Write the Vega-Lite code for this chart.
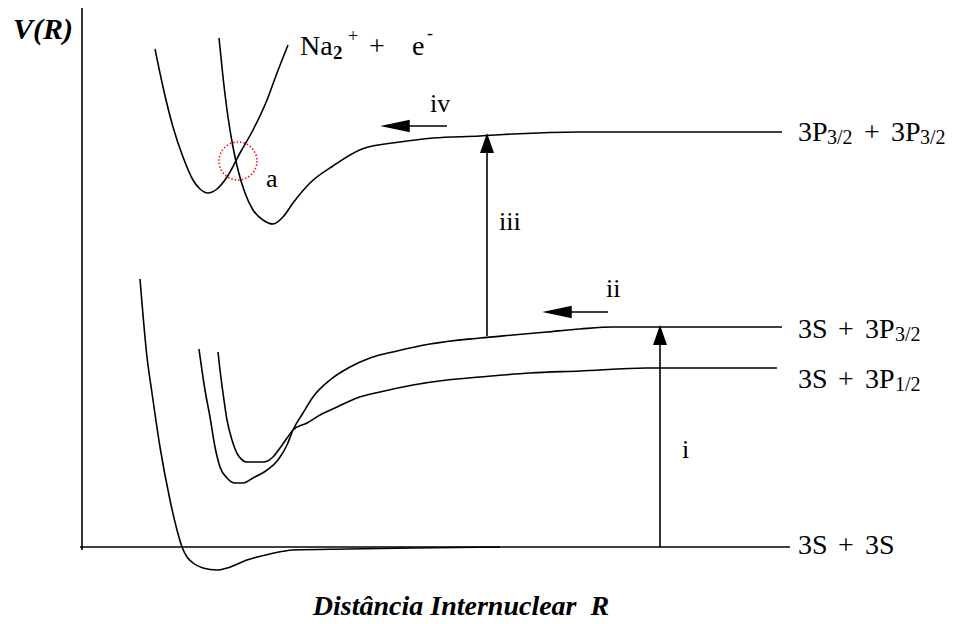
{
  "$schema": "https://vega.github.io/schema/vega-lite/v6.json",
  "width": 960,
  "height": 624,
  "autosize": {"type": "fit", "contains": "padding"},
  "padding": 0,
  "background": "white",
  "config": {"view": {"stroke": null}},
  "datasets": {
    "curves": [
      {"curve": "3S+3S", "R": 5.8, "V": 26.8}, {"curve": "3S+3S", "R": 6.5, "V": 19.0}, {"curve": "3S+3S", "R": 7.0, "V": 15.4}, {"curve": "3S+3S", "R": 7.8, "V": 10.0}, {"curve": "3S+3S", "R": 8.8, "V": 4.7}, {"curve": "3S+3S", "R": 9.5, "V": 1.7}, {"curve": "3S+3S", "R": 10.0, "V": 0.0}, {"curve": "3S+3S", "R": 10.5, "V": -1.0}, {"curve": "3S+3S", "R": 11.1, "V": -1.6}, {"curve": "3S+3S", "R": 12.1, "V": -2.1}, {"curve": "3S+3S", "R": 13.5, "V": -2.3}, {"curve": "3S+3S", "R": 14.5, "V": -2.1}, {"curve": "3S+3S", "R": 16.5, "V": -1.3}, {"curve": "3S+3S", "R": 18.8, "V": -0.7}, {"curve": "3S+3S", "R": 21.1, "V": -0.3}, {"curve": "3S+3S", "R": 26.5, "V": -0.2}, {"curve": "3S+3S", "R": 33.1, "V": -0.1}, {"curve": "3S+3S", "R": 41.8, "V": 0.0},
      {"curve": "3S+3P3/2", "R": 11.7, "V": 19.8}, {"curve": "3S+3P3/2", "R": 12.3, "V": 15.7}, {"curve": "3S+3P3/2", "R": 12.8, "V": 13.0}, {"curve": "3S+3P3/2", "R": 13.3, "V": 10.0}, {"curve": "3S+3P3/2", "R": 13.8, "V": 8.0}, {"curve": "3S+3P3/2", "R": 14.5, "V": 6.9}, {"curve": "3S+3P3/2", "R": 15.3, "V": 6.4}, {"curve": "3S+3P3/2", "R": 16.1, "V": 6.4}, {"curve": "3S+3P3/2", "R": 17.1, "V": 6.9}, {"curve": "3S+3P3/2", "R": 18.5, "V": 7.7}, {"curve": "3S+3P3/2", "R": 19.6, "V": 8.7}, {"curve": "3S+3P3/2", "R": 20.5, "V": 10.2}, {"curve": "3S+3P3/2", "R": 21.1, "V": 11.7}, {"curve": "3S+3P3/2", "R": 22.1, "V": 13.4}, {"curve": "3S+3P3/2", "R": 23.1, "V": 15.0}, {"curve": "3S+3P3/2", "R": 24.8, "V": 16.7}, {"curve": "3S+3P3/2", "R": 26.8, "V": 18.0}, {"curve": "3S+3P3/2", "R": 28.8, "V": 18.9}, {"curve": "3S+3P3/2", "R": 31.5, "V": 19.6}, {"curve": "3S+3P3/2", "R": 34.8, "V": 20.3}, {"curve": "3S+3P3/2", "R": 39.8, "V": 20.9}, {"curve": "3S+3P3/2", "R": 43.1, "V": 21.2}, {"curve": "3S+3P3/2", "R": 46.5, "V": 21.5}, {"curve": "3S+3P3/2", "R": 49.8, "V": 21.8}, {"curve": "3S+3P3/2", "R": 53.1, "V": 22.0}, {"curve": "3S+3P3/2", "R": 56.1, "V": 22.0}, {"curve": "3S+3P3/2", "R": 70.0, "V": 22.0},
      {"curve": "3S+3P1/2", "R": 13.6, "V": 19.5}, {"curve": "3S+3P1/2", "R": 13.8, "V": 17.7}, {"curve": "3S+3P1/2", "R": 14.1, "V": 15.4}, {"curve": "3S+3P1/2", "R": 14.5, "V": 12.7}, {"curve": "3S+3P1/2", "R": 15.0, "V": 10.7}, {"curve": "3S+3P1/2", "R": 15.6, "V": 9.2}, {"curve": "3S+3P1/2", "R": 16.5, "V": 8.5}, {"curve": "3S+3P1/2", "R": 17.3, "V": 8.5}, {"curve": "3S+3P1/2", "R": 18.1, "V": 8.5}, {"curve": "3S+3P1/2", "R": 19.1, "V": 9.0}, {"curve": "3S+3P1/2", "R": 19.8, "V": 9.9}, {"curve": "3S+3P1/2", "R": 20.5, "V": 10.9}, {"curve": "3S+3P1/2", "R": 21.1, "V": 11.7}, {"curve": "3S+3P1/2", "R": 22.5, "V": 12.4}, {"curve": "3S+3P1/2", "R": 23.8, "V": 13.2}, {"curve": "3S+3P1/2", "R": 25.5, "V": 14.0}, {"curve": "3S+3P1/2", "R": 27.5, "V": 14.9}, {"curve": "3S+3P1/2", "R": 29.8, "V": 15.5}, {"curve": "3S+3P1/2", "R": 33.1, "V": 16.2}, {"curve": "3S+3P1/2", "R": 36.5, "V": 16.7}, {"curve": "3S+3P1/2", "R": 39.8, "V": 17.0}, {"curve": "3S+3P1/2", "R": 44.8, "V": 17.4}, {"curve": "3S+3P1/2", "R": 49.8, "V": 17.6}, {"curve": "3S+3P1/2", "R": 56.5, "V": 17.9}, {"curve": "3S+3P1/2", "R": 69.5, "V": 17.9},
      {"curve": "Na2+", "R": 7.3, "V": 49.8}, {"curve": "Na2+", "R": 8.1, "V": 46.0}, {"curve": "Na2+", "R": 9.1, "V": 42.0}, {"curve": "Na2+", "R": 10.1, "V": 39.0}, {"curve": "Na2+", "R": 11.1, "V": 36.7}, {"curve": "Na2+", "R": 11.8, "V": 35.8}, {"curve": "Na2+", "R": 12.6, "V": 35.4}, {"curve": "Na2+", "R": 13.5, "V": 35.8}, {"curve": "Na2+", "R": 14.5, "V": 37.0}, {"curve": "Na2+", "R": 15.8, "V": 39.4}, {"curve": "Na2+", "R": 17.1, "V": 41.7}, {"curve": "Na2+", "R": 18.5, "V": 44.7}, {"curve": "Na2+", "R": 19.5, "V": 47.4}, {"curve": "Na2+", "R": 20.6, "V": 50.2},
      {"curve": "3P3/2+3P3/2", "R": 13.7, "V": 50.9}, {"curve": "3P3/2+3P3/2", "R": 14.1, "V": 47.0}, {"curve": "3P3/2+3P3/2", "R": 14.6, "V": 43.0}, {"curve": "3P3/2+3P3/2", "R": 15.1, "V": 40.0}, {"curve": "3P3/2+3P3/2", "R": 15.6, "V": 37.7}, {"curve": "3P3/2+3P3/2", "R": 16.3, "V": 35.4}, {"curve": "3P3/2+3P3/2", "R": 17.1, "V": 33.7}, {"curve": "3P3/2+3P3/2", "R": 18.1, "V": 32.7}, {"curve": "3P3/2+3P3/2", "R": 19.1, "V": 32.3}, {"curve": "3P3/2+3P3/2", "R": 20.1, "V": 33.0}, {"curve": "3P3/2+3P3/2", "R": 21.1, "V": 34.4}, {"curve": "3P3/2+3P3/2", "R": 22.8, "V": 36.4}, {"curve": "3P3/2+3P3/2", "R": 25.1, "V": 38.1}, {"curve": "3P3/2+3P3/2", "R": 28.0, "V": 39.8}, {"curve": "3P3/2+3P3/2", "R": 31.8, "V": 40.5}, {"curve": "3P3/2+3P3/2", "R": 35.1, "V": 40.9}, {"curve": "3P3/2+3P3/2", "R": 39.8, "V": 41.1}, {"curve": "3P3/2+3P3/2", "R": 43.1, "V": 41.3}, {"curve": "3P3/2+3P3/2", "R": 49.8, "V": 41.5}, {"curve": "3P3/2+3P3/2", "R": 70.0, "V": 41.5}
    ],
    "rules": [
      {"name": "R axis", "R": -0.2, "V": 0.0, "R2": 70.8, "V2": 0.0},
      {"name": "V axis", "R": 0.0, "V": -0.3, "R2": 0.0, "V2": 53.9},
      {"name": "i", "R": 57.8, "V": 0.0, "R2": 57.8, "V2": 20.5},
      {"name": "iii", "R": 40.5, "V": 21.1, "R2": 40.5, "V2": 39.6},
      {"name": "ii", "R": 52.6, "V": 23.5, "R2": 48.5, "V2": 23.5},
      {"name": "iv", "R": 36.5, "V": 42.1, "R2": 32.5, "V2": 42.1}
    ],
    "heads": [
      {"name": "i", "dir": "up", "R": 57.8, "V": 21.2},
      {"name": "iii", "dir": "up", "R": 40.5, "V": 40.4},
      {"name": "ii", "dir": "left", "R": 47.5, "V": 23.5},
      {"name": "iv", "dir": "left", "R": 31.3, "V": 42.1}
    ],
    "labels": [
      {"kind": "main", "t": "3P", "R": 71.6, "V": 40.6},
      {"kind": "sub", "t": "3/2", "R": 74.5, "V": 40.3},
      {"kind": "main", "t": "+", "R": 78.2, "V": 40.6},
      {"kind": "main", "t": "3P", "R": 80.9, "V": 40.6},
      {"kind": "sub", "t": "3/2", "R": 83.8, "V": 40.3},
      {"kind": "main", "t": "3S", "R": 71.6, "V": 20.9},
      {"kind": "main", "t": "+", "R": 75.6, "V": 20.9},
      {"kind": "main", "t": "3P", "R": 78.3, "V": 20.9},
      {"kind": "sub", "t": "3/2", "R": 81.3, "V": 20.6},
      {"kind": "main", "t": "3S", "R": 71.6, "V": 15.9},
      {"kind": "main", "t": "+", "R": 75.6, "V": 15.9},
      {"kind": "main", "t": "3P", "R": 78.3, "V": 15.9},
      {"kind": "sub", "t": "1/2", "R": 81.3, "V": 15.6},
      {"kind": "main", "t": "3S", "R": 71.6, "V": -0.7},
      {"kind": "main", "t": "+", "R": 75.6, "V": -0.7},
      {"kind": "main", "t": "3S", "R": 78.3, "V": -0.7},
      {"kind": "main", "t": "Na", "R": 21.8, "V": 49.2},
      {"kind": "subb", "t": "2", "R": 25.1, "V": 48.8},
      {"kind": "sup", "t": "+", "R": 26.6, "V": 50.5},
      {"kind": "main", "t": "+", "R": 28.7, "V": 49.2},
      {"kind": "main", "t": "e", "R": 33.0, "V": 49.2},
      {"kind": "sup", "t": "-", "R": 34.5, "V": 50.8},
      {"kind": "roman", "t": "a", "R": 18.4, "V": 36.0},
      {"kind": "roman", "t": "iv", "R": 34.8, "V": 43.5},
      {"kind": "roman", "t": "iii", "R": 41.7, "V": 31.7},
      {"kind": "roman", "t": "ii", "R": 52.4, "V": 25.0},
      {"kind": "roman", "t": "i", "R": 60.0, "V": 8.9},
      {"kind": "title", "t": "Distância Internuclear\u00a0 R", "R": 37.9, "V": -6.8},
      {"kind": "ylabel", "t": "V(R)", "R": -6.9, "V": 50.8}
    ]
  },
  "encoding": {
    "x": {"field": "R", "type": "quantitative", "scale": {"domain": [-8.2, 87.8], "nice": false, "zero": false}, "axis": null},
    "y": {"field": "V", "type": "quantitative", "scale": {"domain": [-7.7, 54.7], "nice": false, "zero": false}, "axis": null}
  },
  "layer": [
    {
      "data": {"name": "rules"},
      "mark": {"type": "rule", "color": "black", "strokeWidth": 1.6},
      "encoding": {"x2": {"field": "R2"}, "y2": {"field": "V2"}}
    },
    {
      "data": {"name": "curves"},
      "mark": {"type": "line", "color": "black", "strokeWidth": 1.6, "interpolate": "monotone"},
      "encoding": {"detail": {"field": "curve"}}
    },
    {
      "data": {"name": "heads"},
      "transform": [{"filter": "datum.dir === 'up'"}],
      "mark": {"type": "point", "filled": true, "color": "black", "opacity": 1, "strokeWidth": 0, "shape": "M0,-1L0.7,1L-0.7,1Z", "size": 400},
      "encoding": {}
    },
    {
      "data": {"name": "heads"},
      "transform": [{"filter": "datum.dir === 'left'"}],
      "mark": {"type": "point", "filled": true, "color": "black", "opacity": 1, "strokeWidth": 0, "shape": "M-1,0L1,-0.42L1,0.42Z", "size": 870},
      "encoding": {}
    },
    {
      "data": {"values": [{"name": "a", "R": 15.6, "V": 38.6}]},
      "mark": {"type": "point", "shape": "circle", "filled": false, "stroke": "#ff0000", "strokeWidth": 1.5, "strokeDash": [1.5, 2], "size": 1444, "opacity": 1},
      "encoding": {}
    },
    {
      "data": {"name": "labels"},
      "transform": [{"filter": "datum.kind === 'main'"}],
      "mark": {"type": "text", "align": "left", "baseline": "alphabetic", "font": "Liberation Serif, Times New Roman, Times, serif", "fontSize": 28, "color": "black"},
      "encoding": {"text": {"field": "t"}}
    },
    {
      "data": {"name": "labels"},
      "transform": [{"filter": "datum.kind === 'sub'"}],
      "mark": {"type": "text", "align": "left", "baseline": "alphabetic", "font": "Liberation Serif, Times New Roman, Times, serif", "fontSize": 20, "color": "black"},
      "encoding": {"text": {"field": "t"}}
    },
    {
      "data": {"name": "labels"},
      "transform": [{"filter": "datum.kind === 'sup'"}],
      "mark": {"type": "text", "align": "left", "baseline": "alphabetic", "font": "Liberation Serif, Times New Roman, Times, serif", "fontSize": 18, "color": "black"},
      "encoding": {"text": {"field": "t"}}
    },
    {
      "data": {"name": "labels"},
      "transform": [{"filter": "datum.kind === 'subb'"}],
      "mark": {"type": "text", "align": "left", "baseline": "alphabetic", "font": "Liberation Serif, Times New Roman, Times, serif", "fontSize": 19, "fontWeight": "bold", "color": "black"},
      "encoding": {"text": {"field": "t"}}
    },
    {
      "data": {"name": "labels"},
      "transform": [{"filter": "datum.kind === 'roman'"}],
      "mark": {"type": "text", "align": "left", "baseline": "alphabetic", "font": "Liberation Serif, Times New Roman, Times, serif", "fontSize": 26, "color": "black"},
      "encoding": {"text": {"field": "t"}}
    },
    {
      "data": {"name": "labels"},
      "transform": [{"filter": "datum.kind === 'title'"}],
      "mark": {"type": "text", "align": "center", "baseline": "alphabetic", "font": "Liberation Serif, Times New Roman, Times, serif", "fontSize": 28, "fontStyle": "italic", "fontWeight": "bold", "color": "black"},
      "encoding": {"text": {"field": "t"}}
    },
    {
      "data": {"name": "labels"},
      "transform": [{"filter": "datum.kind === 'ylabel'"}],
      "mark": {"type": "text", "align": "left", "baseline": "alphabetic", "font": "Liberation Serif, Times New Roman, Times, serif", "fontSize": 30, "fontStyle": "italic", "fontWeight": "bold", "color": "black"},
      "encoding": {"text": {"field": "t"}}
    }
  ]
}
